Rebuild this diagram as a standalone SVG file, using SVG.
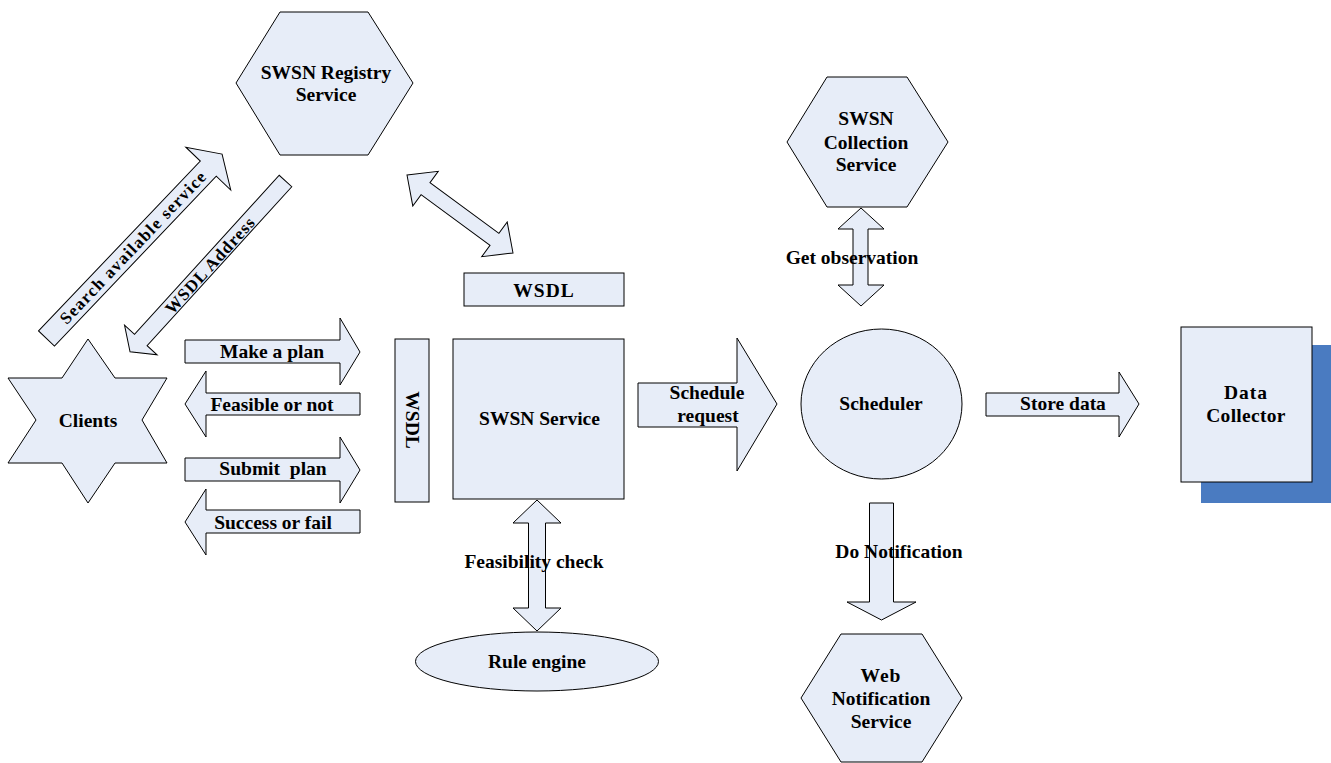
<svg xmlns="http://www.w3.org/2000/svg" width="1331" height="763" viewBox="0 0 1331 763">
  <style>
    .shape { fill: #e7edf8; stroke: #000; stroke-width: 1; }
    .arrow { fill: #e7edf8; stroke: #000; stroke-width: 1; stroke-linejoin: miter; }
    .shadow { fill: #4a7bc1; stroke: none; }
    text { font-family: "Liberation Serif", "Times New Roman", serif; font-weight: bold; font-size: 19.5px; fill: #000; text-anchor: middle; }
    .diag { font-size: 17px; letter-spacing: 1.3px; }
    .diag2 { font-size: 17px; letter-spacing: 1.1px; }
  </style>
  <rect x="0" y="0" width="1331" height="763" fill="#ffffff"/>

  <g id="connectors">
    <g id="arrow-search">
      <polygon class="arrow" transform="translate(46.5,338.5) rotate(-46.4)" points="0,-11 234.6,-11 234.6,-31 254.6,0 234.6,31 234.6,11 0,11"/>
      <text class="diag" transform="translate(133,247) rotate(-46.4)" y="6">Search available service</text>
    </g>
    <g id="arrow-wsdl-address">
      <polygon class="arrow" transform="translate(285.5,181) rotate(132.3)" points="0,-8.5 215,-8.5 215,-22 231,0 215,22 215,8.5 0,8.5"/>
      <text class="diag2" transform="translate(210,265) rotate(-47.7)" y="6">WSDL Address</text>
    </g>
    <g id="arrow-registry-wsdl">
      <polygon class="arrow" transform="translate(407,175) rotate(36.35)" points="0,0 23,-21.5 23,-7.5 108.6,-7.5 108.6,-21.5 131.6,0 108.6,21.5 108.6,7.5 23,7.5 23,21.5"/>
    </g>
    <g id="arrow-make-plan">
      <polygon class="arrow" points="185,340 340,340 340,318 360,352 340,385 340,363 185,363"/>
      <text x="272" y="358">Make a plan</text>
    </g>
    <g id="arrow-feasible">
      <polygon class="arrow" points="360,393 206,393 206,371 185,404 206,437 206,415 360,415"/>
      <text x="272" y="410.5">Feasible or not</text>
    </g>
    <g id="arrow-submit">
      <polygon class="arrow" points="185,458 340,458 340,437 360,470 340,503 340,481 185,481"/>
      <text x="273" y="475" xml:space="preserve">Submit  plan</text>
    </g>
    <g id="arrow-success">
      <polygon class="arrow" points="360,510 206,510 206,489 185,522 206,555 206,533 360,533"/>
      <text x="273" y="528.5">Success or fail</text>
    </g>
    <g id="arrow-schedule">
      <polygon class="arrow" points="638,383 737,383 737,338 777,404 737,471 737,427 638,427"/>
      <text x="707" y="398.5">Schedule</text>
      <text x="708" y="421.5">request</text>
    </g>
    <g id="arrow-get-observation">
      <polygon class="arrow" points="861,208 884,229 868,229 868,285 884,285 861,306 838,285 853,285 853,229 838,229"/>
      <text x="852" y="263.5">Get observation</text>
    </g>
    <g id="arrow-store">
      <polygon class="arrow" points="986,393 1119,393 1119,372 1139,404 1119,437 1119,416 986,416"/>
      <text x="1063" y="410">Store data</text>
    </g>
    <g id="arrow-feasibility">
      <polygon class="arrow" points="537,500 561,523 545.5,523 545.5,608 561,608 537,631 513,608 528.5,608 528.5,523 513,523"/>
      <text x="534" y="567.5">Feasibility check</text>
    </g>
    <g id="arrow-notification">
      <polygon class="arrow" points="869.5,503 893.5,503 893.5,602 916,602 881.5,620 847,602 869.5,602"/>
      <text x="899" y="557.5">Do Notification</text>
    </g>
  </g>

  <g id="registry">
    <polygon class="shape" points="280,12 368,12 413,83 368,155 280,155 236,83"/>
    <text x="326" y="78.5">SWSN Registry</text>
    <text x="326" y="100.5">Service</text>
  </g>

  <g id="clients">
    <polygon class="shape" points="88,339 115,378 167,378 142,420 167,463 115,463 88,503 62,463 8,463 36,420 8,378 62,378"/>
    <text x="88" y="426.5">Clients</text>
  </g>

  <g id="wsdl-vertical">
    <rect class="shape" x="395" y="339" width="34" height="163"/>
    <text transform="translate(412,420) rotate(90)" y="6.5">WSDL</text>
  </g>

  <g id="wsdl-horizontal">
    <rect class="shape" x="464" y="273" width="160" height="33"/>
    <text x="544" y="296.5" letter-spacing="1">WSDL</text>
  </g>

  <g id="swsn-service">
    <rect class="shape" x="453" y="339" width="171" height="160"/>
    <text x="539.5" y="424.5">SWSN Service</text>
  </g>

  <g id="rule-engine">
    <ellipse class="shape" cx="537" cy="661.5" rx="121.5" ry="29.5"/>
    <text x="537" y="668">Rule engine</text>
  </g>

  <g id="collection">
    <polygon class="shape" points="827,77 907,77 948,142 907,207 827,207 787,142"/>
    <text x="866" y="124.5">SWSN</text>
    <text x="866" y="148.5">Collection</text>
    <text x="866" y="170.5">Service</text>
  </g>

  <g id="scheduler">
    <ellipse class="shape" cx="881.5" cy="404" rx="80.5" ry="75"/>
    <text x="881" y="410">Scheduler</text>
  </g>

  <g id="data-collector">
    <rect class="shadow" x="1201" y="345" width="130" height="158"/>
    <rect class="shape" x="1181" y="327" width="131" height="155"/>
    <text x="1246" y="398.5" letter-spacing="1">Data</text>
    <text x="1246" y="421.5" letter-spacing="0.3">Collector</text>
  </g>

  <g id="web-notification">
    <polygon class="shape" points="841,634 922,634 962,698 922,762 841,762 801,698"/>
    <text x="881" y="681.5" letter-spacing="1">Web</text>
    <text x="881" y="704.5">Notification</text>
    <text x="881" y="727.5">Service</text>
  </g>
</svg>
